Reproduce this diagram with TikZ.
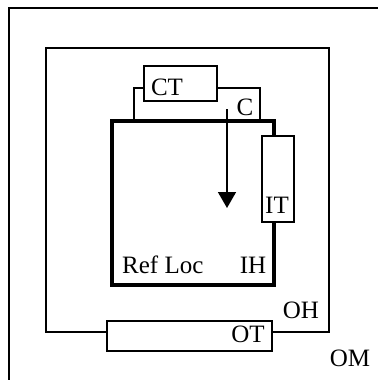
\documentclass[tikz,border=0pt]{standalone}
\usepackage{fontspec}
\setmainfont{Liberation Serif}
\usetikzlibrary{arrows.meta, positioning}

\begin{document}
\begin{tikzpicture}[
  x=1pt, y=-1pt,
  frame/.style={draw, line width=1.5pt, minimum width=#1},
  part/.style={draw, line width=1.5pt, fill=white, inner sep=0pt},
  holder/.style={draw, line width=4pt, inner sep=0pt},
  lbl/.style={inner sep=0pt, font=\fontsize{25}{30}\selectfont},
  arr/.style={line width=1.5pt, -{Triangle[width=18pt, length=16pt]}}
]
\useasboundingbox (0,0) rectangle (378,380);
% outer mount, cut by the border
\coordinate (omlow) at (9,380);
\coordinate (omcorner) at (9,8);
\coordinate (omright) at (378,8);
\draw[line width=2pt] (omlow) -- (omcorner) -- (omright);

\node[frame=283pt, minimum height=284pt] (oh) at (187.5,190) {};
\node[part, minimum width=165pt, minimum height=30pt] (ot) at (189.5,336) {};

\node[part, minimum width=126pt, minimum height=33pt] (c) at (197,104.5) {};
\node[holder, minimum width=162pt, minimum height=164pt] (ih) at (193,203) {};
\node[part, minimum width=73pt, minimum height=35pt] (ct) at (180.5,83.5) {};
\node[part, minimum width=32pt, minimum height=86pt] (it) at (278,179) {};

\coordinate (flowtop) at (227,109);
\coordinate (flowtip) at (227,208);
\draw[arr] (flowtop) -- (flowtip);

\node[lbl, anchor=base] (ctl) at (167,95) {CT};
\node[lbl, anchor=base] (cl) at (245,115) {C};
\node[lbl, anchor=base] (itl) at (277,213) {IT};
\node[lbl, anchor=base west] (refl) at (122,273) {Ref Loc};
\node[lbl, anchor=base] (ihl) at (253,273) {IH};
\node[lbl, anchor=base] (ohl) at (301,318) {OH};
\node[lbl, anchor=base] (otl) at (248,342) {OT};
\node[lbl, anchor=base] (oml) at (350,366) {OM};
\end{tikzpicture}
\end{document}
